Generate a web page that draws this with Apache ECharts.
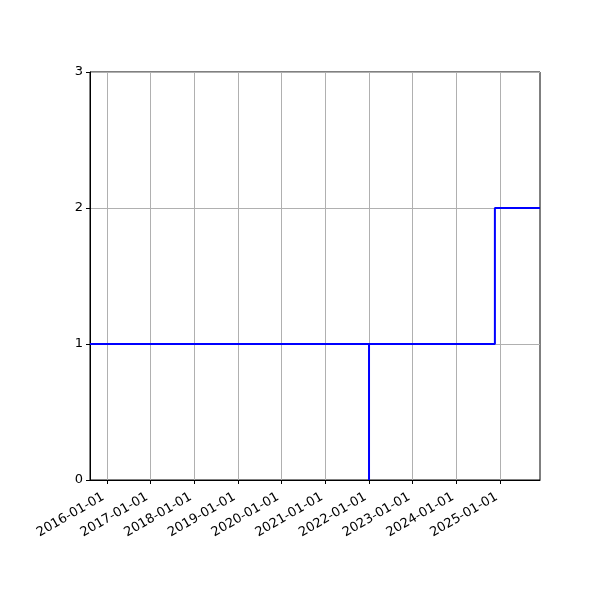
<!DOCTYPE html>
<html>
<head>
<meta charset="utf-8">
<script src="https://cdn.jsdelivr.net/npm/echarts@6/dist/echarts.min.js"></script>
<style>
  html, body { margin: 0; padding: 0; background: #fff; }
  #chart { width: 600px; height: 600px; }
</style>
</head>
<body>
<div id="chart"></div>
<script>
// step series (post-style): value holds until next date
const dates = ["2015-08-14", "2022-01-01", "2022-01-01", "2024-11-18", "2025-11-30"];
const values = [1, 0, 1, 2, 2];

// x range and yearly ticks
const xMin = "2015-08-14";
const xMax = "2025-11-30";
const yearTicks = ["2016-01-01", "2017-01-01", "2018-01-01", "2019-01-01", "2020-01-01",
    "2021-01-01", "2022-01-01", "2023-01-01", "2024-01-01", "2025-01-01"];
const yTicks = [0, 1, 2, 3];

const ts = (s) => Date.parse(s + "T00:00:00Z");
const pad = (n) => String(n).padStart(2, "0");
function fmtDate(v) {
    const d = new Date(v);
    return `${d.getUTCFullYear()}-${pad(d.getUTCMonth() + 1)}-${pad(d.getUTCDate())}`;
}

const chart = echarts.init(document.getElementById("chart"));
const font = "DejaVu Sans";

chart.setOption({
    animation: false,
    grid: {
        left: 90, right: 60, top: 72, bottom: 120,
        show: true, borderColor: "#000", borderWidth: 1, backgroundColor: "transparent",
    },
    xAxis: {
        type: "value",
        min: ts(xMin),
        max: ts(xMax),
        axisLine: { lineStyle: { color: "#000", width: 1 } },
        axisTick: {
            show: true, length: 4, inside: false,
            customValues: yearTicks.map(ts),
            lineStyle: { color: "#000" },
        },
        axisLabel: {
            customValues: yearTicks.map(ts),
            rotate: 30,
            formatter: (v) => fmtDate(v),
            color: "#000", fontSize: 13, fontFamily: font, margin: 14,
            padding: [0, 4, 0, 0],
        },
        splitLine: { show: true, lineStyle: { color: "#b0b0b0", width: 1 } },
    },
    yAxis: {
        type: "value",
        min: yTicks[0],
        max: yTicks[yTicks.length - 1],
        interval: 1,
        axisLine: { show: true, lineStyle: { color: "#000", width: 1 } },
        axisTick: { show: true, length: 4, lineStyle: { color: "#000" } },
        axisLabel: { color: "#000", fontSize: 13, fontFamily: font, margin: 7 },
        splitLine: { show: true, lineStyle: { color: "#b0b0b0", width: 1 } },
    },
    series: [{
        type: "line",
        step: "end",
        showSymbol: false,
        data: dates.map((d, i) => [ts(d), values[i]]),
        lineStyle: { color: "#0000ff", width: 2 },
    }],
});
</script>
</body>
</html>
